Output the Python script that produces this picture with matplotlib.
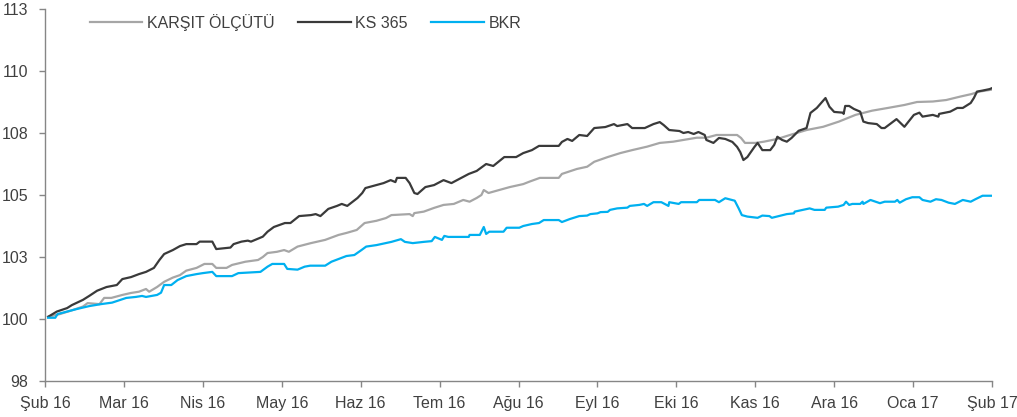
import matplotlib
matplotlib.use("Agg")
import matplotlib.pyplot as plt

plt.rcParams['font.family'] = ['Liberation Sans', 'DejaVu Sans']

# ay ekseni etiketleri (0 = Şub 16 ... 12 = Şub 17)
month_labels = ['Şub 16', 'Mar 16', 'Nis 16', 'May 16', 'Haz 16', 'Tem 16', 'Ağu 16',
                'Eyl 16', 'Eki 16', 'Kas 16', 'Ara 16', 'Oca 17', 'Şub 17']
y_ticks = [97.5, 100, 102.5, 105, 107.5, 110, 112.5]
y_labels = ['98', '100', '103', '105', '108', '110', '113']

# KS 365
ks_x = [0.04, 0.15, 0.28, 0.34, 0.48, 0.56, 0.66, 0.78, 0.91, 0.98, 1.09, 1.19, 1.28, 1.38,
        1.45, 1.51, 1.62, 1.71, 1.79, 1.92, 1.96, 2.12, 2.17, 2.35, 2.39, 2.49, 2.57, 2.61,
        2.76, 2.82, 2.90, 3.04, 3.11, 3.22, 3.37, 3.43, 3.49, 3.59, 3.70, 3.76, 3.83, 3.96,
        4.02, 4.06, 4.20, 4.29, 4.38, 4.44, 4.46, 4.57, 4.62, 4.68, 4.72, 4.82, 4.93, 5.05,
        5.15, 5.30, 5.37, 5.47, 5.59, 5.68, 5.82, 5.97, 6.06, 6.17, 6.26, 6.51, 6.55, 6.62,
        6.68, 6.77, 6.87, 6.96, 7.10, 7.21, 7.25, 7.38, 7.44, 7.60, 7.71, 7.79, 7.84, 7.91,
        8.04, 8.09, 8.15, 8.22, 8.28, 8.36, 8.38, 8.47, 8.54, 8.62, 8.71, 8.77, 8.81, 8.85,
        8.90, 8.99, 9.03, 9.09, 9.19, 9.24, 9.28, 9.34, 9.40, 9.46, 9.55, 9.65, 9.70, 9.78,
        9.89, 9.94, 10.00, 10.11, 10.12, 10.14, 10.19, 10.25, 10.33, 10.37, 10.43, 10.54,
        10.60, 10.64, 10.79, 10.89, 11.01, 11.08, 11.12, 11.25, 11.32, 11.33, 11.47, 11.56,
        11.63, 11.73, 11.77, 11.81, 11.88, 11.97, 12.0]
ks_y = [100.09, 100.30, 100.44, 100.56, 100.77, 100.93, 101.14, 101.29, 101.37, 101.61,
        101.69, 101.81, 101.90, 102.06, 102.38, 102.62, 102.78, 102.94, 103.02, 103.02,
        103.12, 103.12, 102.82, 102.88, 103.02, 103.12, 103.16, 103.12, 103.32, 103.52,
        103.71, 103.87, 103.87, 104.15, 104.19, 104.23, 104.15, 104.44, 104.56, 104.64,
        104.56, 104.88, 105.08, 105.28, 105.40, 105.48, 105.60, 105.52, 105.69, 105.69,
        105.48, 105.08, 105.04, 105.32, 105.40, 105.60, 105.48, 105.73, 105.85, 105.97,
        106.25, 106.17, 106.53, 106.53, 106.69, 106.81, 106.98, 106.98, 107.14, 107.26,
        107.18, 107.42, 107.38, 107.70, 107.74, 107.86, 107.78, 107.86, 107.70, 107.70,
        107.86, 107.94, 107.82, 107.62, 107.58, 107.50, 107.54, 107.46, 107.54, 107.42,
        107.22, 107.10, 107.30, 107.26, 107.14, 106.94, 106.73, 106.41, 106.53, 106.94,
        107.10, 106.81, 106.81, 107.02, 107.35, 107.22, 107.15, 107.30, 107.59, 107.70,
        108.31, 108.51, 108.91, 108.56, 108.35, 108.32, 108.27, 108.59, 108.59, 108.47,
        108.36, 107.96, 107.90, 107.86, 107.70, 107.70, 108.06, 107.75, 108.23, 108.32,
        108.16, 108.23, 108.16, 108.27, 108.36, 108.51, 108.51, 108.71, 108.91, 109.17,
        109.21, 109.27, 109.31]

# KARŞIT ÖLÇÜTÜ
ref_x = [0.04, 0.19, 0.35, 0.48, 0.54, 0.69, 0.75, 0.84, 0.98, 1.09, 1.19, 1.28, 1.32, 1.42,
         1.51, 1.62, 1.71, 1.79, 1.92, 2.02, 2.12, 2.17, 2.30, 2.37, 2.54, 2.70, 2.76, 2.82,
         2.94, 3.03, 3.09, 3.20, 3.37, 3.55, 3.72, 3.82, 3.95, 4.05, 4.20, 4.32, 4.39, 4.62,
         4.66, 4.68, 4.80, 4.93, 5.05, 5.18, 5.30, 5.38, 5.47, 5.53, 5.56, 5.62, 5.72, 5.89,
         6.06, 6.14, 6.27, 6.51, 6.55, 6.74, 6.87, 6.96, 7.13, 7.29, 7.44, 7.63, 7.79, 7.96,
         8.09, 8.26, 8.38, 8.51, 8.77, 8.82, 8.87, 9.00, 9.11, 9.28, 9.44, 9.65, 9.86, 10.06,
         10.27, 10.48, 10.68, 10.89, 11.05, 11.25, 11.42, 11.60, 11.74, 11.84, 12.0]
ref_y = [100.09, 100.20, 100.36, 100.50, 100.64, 100.60, 100.85, 100.85, 100.97, 101.05,
         101.10, 101.21, 101.10, 101.29, 101.50, 101.67, 101.77, 101.95, 102.06, 102.22,
         102.22, 102.06, 102.06, 102.18, 102.31, 102.38, 102.50, 102.66, 102.71, 102.78,
         102.71, 102.92, 103.06, 103.19, 103.39, 103.47, 103.59, 103.87, 103.96, 104.07,
         104.19, 104.23, 104.15, 104.27, 104.33, 104.48, 104.60, 104.64, 104.80, 104.73,
         104.88, 105.00, 105.20, 105.08, 105.17, 105.32, 105.44, 105.54, 105.69, 105.69,
         105.85, 106.05, 106.14, 106.34, 106.53, 106.69, 106.81, 106.95, 107.10, 107.15,
         107.22, 107.31, 107.31, 107.42, 107.42, 107.30, 107.10, 107.10, 107.15, 107.26,
         107.42, 107.62, 107.75, 107.96, 108.23, 108.40, 108.51, 108.63, 108.75, 108.77,
         108.83, 108.97, 109.07, 109.17, 109.25]

# BKR
bkr_x = [0.04, 0.13, 0.16, 0.28, 0.40, 0.56, 0.71, 0.85, 1.03, 1.15, 1.23, 1.28, 1.42, 1.47,
         1.51, 1.60, 1.68, 1.79, 1.92, 2.00, 2.12, 2.17, 2.37, 2.45, 2.73, 2.82, 2.88, 3.03,
         3.07, 3.20, 3.29, 3.36, 3.55, 3.63, 3.82, 3.92, 4.01, 4.07, 4.20, 4.32, 4.39, 4.51,
         4.56, 4.66, 4.80, 4.90, 4.94, 5.03, 5.06, 5.11, 5.37, 5.38, 5.51, 5.56, 5.59, 5.63,
         5.81, 5.85, 6.01, 6.06, 6.17, 6.26, 6.32, 6.51, 6.55, 6.65, 6.77, 6.87, 6.91, 7.00,
         7.04, 7.13, 7.16, 7.25, 7.38, 7.41, 7.53, 7.59, 7.63, 7.71, 7.81, 7.90, 7.91, 8.03,
         8.06, 8.26, 8.29, 8.49, 8.54, 8.62, 8.74, 8.79, 8.83, 8.90, 9.03, 9.09, 9.18, 9.21,
         9.30, 9.40, 9.49, 9.50, 9.69, 9.75, 9.88, 9.90, 10.05, 10.12, 10.15, 10.19, 10.23,
         10.33, 10.36, 10.37, 10.46, 10.58, 10.64, 10.77, 10.80, 10.83, 10.91, 10.99, 11.08,
         11.12, 11.22, 11.29, 11.36, 11.45, 11.53, 11.63, 11.73, 11.79, 11.88, 12.0]
bkr_y = [100.05, 100.05, 100.20, 100.30, 100.40, 100.52, 100.60, 100.66, 100.85, 100.89,
         100.93, 100.89, 100.97, 101.06, 101.37, 101.37, 101.57, 101.73, 101.81, 101.85,
         101.90, 101.73, 101.73, 101.85, 101.90, 102.11, 102.22, 102.22, 102.02, 101.99,
         102.11, 102.15, 102.15, 102.31, 102.54, 102.58, 102.78, 102.92, 102.98, 103.06,
         103.11, 103.22, 103.11, 103.06, 103.11, 103.14, 103.31, 103.19, 103.35, 103.31,
         103.31, 103.39, 103.39, 103.71, 103.43, 103.52, 103.52, 103.68, 103.68, 103.75,
         103.83, 103.87, 103.99, 103.99, 103.91, 104.03, 104.15, 104.17, 104.23, 104.26,
         104.31, 104.32, 104.40, 104.46, 104.49, 104.56, 104.60, 104.64, 104.56, 104.71,
         104.71, 104.56, 104.71, 104.64, 104.71, 104.71, 104.80, 104.80, 104.71, 104.87,
         104.77, 104.46, 104.19, 104.13, 104.08, 104.17, 104.15, 104.08, 104.15, 104.23,
         104.26, 104.33, 104.46, 104.40, 104.40, 104.49, 104.53, 104.60, 104.73, 104.60,
         104.64, 104.64, 104.73, 104.64, 104.80, 104.67, 104.73, 104.73, 104.80, 104.69,
         104.83, 104.91, 104.91, 104.80, 104.73, 104.83, 104.80, 104.69, 104.64, 104.80,
         104.73, 104.83, 104.97, 104.97]

fig = plt.figure(figsize=(10.17, 4.17), dpi=100)
ax = fig.add_axes([45 / 1017, 36 / 417, 947 / 1017, 372 / 417])

ax.plot(ref_x, ref_y, color='#A6A6A6', lw=1.6, label='KARŞIT ÖLÇÜTÜ')
ax.plot(ks_x, ks_y, color='#3A3A3A', lw=1.6, label='KS 365')
ax.plot(bkr_x, bkr_y, color='#00B0F0', lw=1.6, label='BKR')

ax.set_xlim(0, 12)
ax.set_ylim(97.5, 112.5)
ax.set_yticks(y_ticks)
ax.set_yticklabels(y_labels)
ax.set_xticks(range(13))
ax.set_xticklabels(month_labels)

for s in ['top', 'right']:
    ax.spines[s].set_visible(False)
for s in ['left', 'bottom']:
    ax.spines[s].set_color('#868686')
    ax.spines[s].set_linewidth(1.0)
ax.tick_params(axis='both', colors='#868686', labelcolor='#404040', labelsize=11.5,
               length=4, width=1.0, direction='out')
ax.tick_params(axis='y', pad=8)
ax.tick_params(axis='x', pad=7)

ax.legend(loc='upper left', bbox_to_anchor=(0.032, 1.025), ncol=3, frameon=False,
          fontsize=11.5, handlelength=3.3, handletextpad=0.3, columnspacing=1.45,
          labelcolor='#404040')

fig.savefig('out.png', dpi=100)
